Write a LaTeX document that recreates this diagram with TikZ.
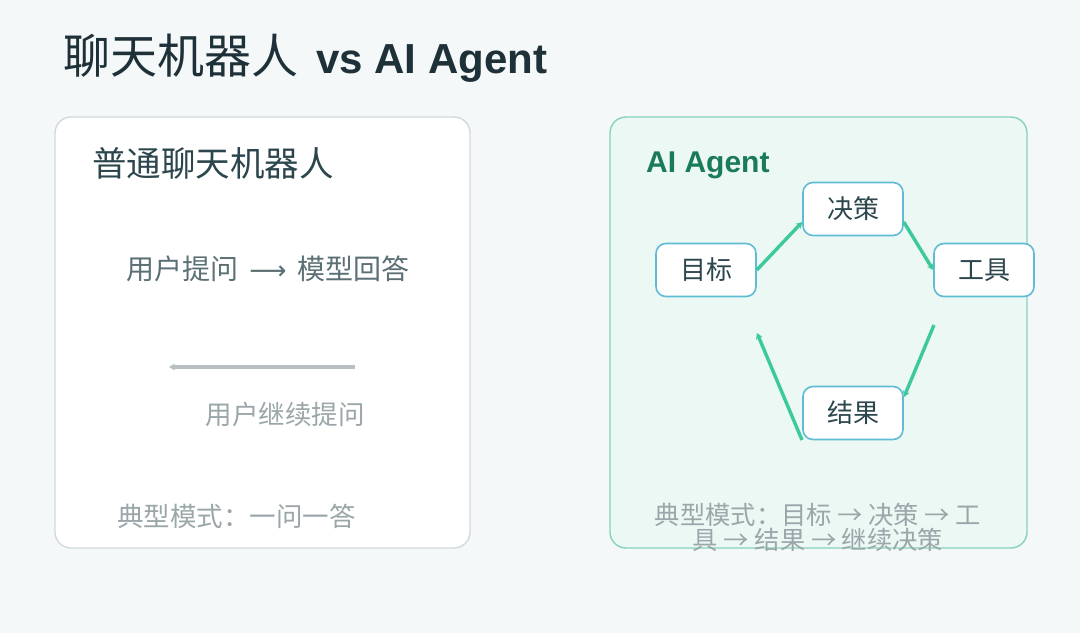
\documentclass[tikz,border=0pt]{standalone}
\usepackage{fontspec}
\setmainfont{Liberation Sans}
\newfontfamily\cjk{Noto Sans CJK SC}
\newfontfamily\djv{DejaVu Sans}
\usetikzlibrary{arrows.meta}
\definecolor{bgc}{HTML}{F4F8F9}
\definecolor{lpborder}{HTML}{D0DADF}
\definecolor{rpfill}{HTML}{EBF8F4}
\definecolor{rpborder}{HTML}{86D3BD}
\definecolor{nodeborder}{HTML}{5FBCD3}
\definecolor{arrgreen}{HTML}{3CC99B}
\definecolor{titlec}{HTML}{1E3038}
\definecolor{darkc}{HTML}{2C464D}
\definecolor{midgrey}{HTML}{5B6F75}
\definecolor{lightgrey}{HTML}{9AA6A9}
\definecolor{arrgrey}{HTML}{B8C0C1}
\definecolor{agentgreen}{HTML}{1B7A5B}
\tikzset{
  panel/.style={rounded corners=16pt, line width=1.4pt},
  flownode/.style={draw=nodeborder, fill=white, line width=1.6pt, rounded corners=10pt,
    minimum width=100pt, minimum height=53pt, inner sep=0pt, text=darkc,
    font=\cjk\fontsize{26}{30}\selectfont},
  flowarrow/.style={draw=arrgreen, line width=3.4pt, -{Stealth[length=6pt,width=7pt]}},
  txt/.style={inner sep=0pt}
}
\begin{document}
\begin{tikzpicture}[x=1pt,y=-1pt]
\useasboundingbox (0,0) rectangle (1080,633);
\fill[bgc] (0,0) rectangle (1080,633);
% title
\node[txt, anchor=west, text=titlec] (title) at (63,58)
  {{\cjk\fontsize{47}{52}\selectfont 聊天机器人}\hspace{18pt}{\fontsize{42}{50}\selectfont\bfseries vs AI Agent}};
% left panel
\draw[panel, draw=lpborder, fill=white] (55,117) rectangle (470,548);
\node[txt, anchor=west, text=darkc, font=\cjk\fontsize{34.5}{38}\selectfont] (lefttitle) at (92,163) {普通聊天机器人};
\node[txt, text=midgrey, font=\cjk\fontsize{28}{32}\selectfont] (qa) at (268,269)
  {用户提问\hspace{11pt}{\djv\fontsize{26}{30}\selectfont ⟶}\hspace{11pt}模型回答};
\coordinate (backstart) at (355,367);
\coordinate (backend) at (169,367);
\draw[draw=arrgrey, line width=3.4pt, -{Stealth[length=6pt,width=7pt]}] (backstart) -- (backend);
\node[txt, text=lightgrey, font=\cjk\fontsize{26.5}{30}\selectfont] (cont) at (285,414) {用户继续提问};
\node[txt, anchor=west, text=lightgrey, font=\cjk\fontsize{26.5}{30}\selectfont] (modeL) at (117,516) {典型模式：一问一答};
% right panel
\draw[panel, draw=rpborder, fill=rpfill] (610,117) rectangle (1027,548);
\node[txt, anchor=west, text=agentgreen, font=\fontsize{30}{36}\selectfont\bfseries] (agenttitle) at (646,165) {AI Agent};
\node[flownode] (goal) at (706,270) {目标};
\node[flownode] (decide) at (853,209) {决策};
\node[flownode] (tool) at (984,270) {工具};
\node[flownode] (result) at (853,413) {结果};
\coordinate (toolout) at (934,325);
\coordinate (resultin) at (904,397);
\coordinate (resultout) at (802,440);
\coordinate (goalin) at (757,333);
\draw[flowarrow] (goal.east) -- (decide.south west |- 0,222);
\draw[flowarrow] (decide.east |- 0,222) -- (tool.west);
\draw[flowarrow] (toolout) -- (resultin);
\draw[flowarrow] (resultout) -- (goalin);
\node[txt, text=lightgrey, font=\cjk\fontsize{25.3}{28}\selectfont] (modeR1) at (818,515) {典型模式：目标 → 决策 → 工};
\node[txt, text=lightgrey, font=\cjk\fontsize{25.3}{28}\selectfont] (modeR2) at (818,540) {具 → 结果 → 继续决策};
\end{tikzpicture}
\end{document}
